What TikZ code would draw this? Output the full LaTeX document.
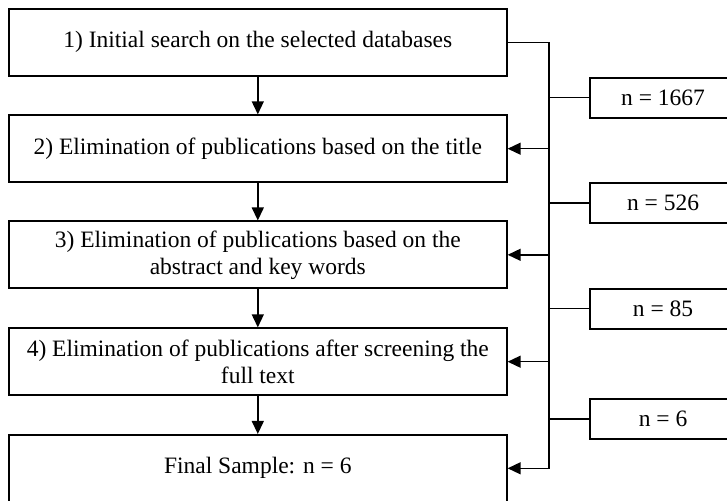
\documentclass[tikz,border=0pt]{standalone}
\usepackage{fontspec}
\setmainfont{Liberation Serif}
\usetikzlibrary{arrows.meta}

\begin{document}
\begin{tikzpicture}[x=1pt,y=-1pt,
  stage/.style={draw=black, line width=2pt, minimum width=497.7pt, minimum height=66.7pt,
    inner sep=0pt, align=center, font=\fontsize{23.5}{27}\selectfont},
  count/.style={draw=black, line width=2pt, minimum width=146pt, minimum height=40.3pt,
    inner sep=0pt, align=center, font=\fontsize{23.5}{27}\selectfont},
  link/.style={line width=1.4pt},
  flow/.style={line width=1.4pt, -{Triangle[length=13pt,width=12pt]}}]

\useasboundingbox (0,0) rectangle (727,500);
\clip (0,0) rectangle (727,500);

% main stages
\node[stage] (b1) at (257.8,42.3)  {1) Initial search on the selected databases};
\node[stage] (b2) at (257.8,148.7) {2) Elimination of publications based on the title};
\node[stage] (b3) at (257.8,254.8) {3) Elimination of publications based on the\\abstract and key words};
\node[stage] (b4) at (257.8,361.7) {4) Elimination of publications after screening the\\full text};
\node[stage] (b5) at (257.8,468.3) {Final Sample: n = 6};

% counts
\node[count] (r1) at (663,97.7)  {n = 1667};
\node[count] (r2) at (663,203.1) {n = 526};
\node[count] (r3) at (663,308.7) {n = 85};
\node[count] (r4) at (663,419)   {n = 6};

% bus on the right
\coordinate (bus) at (549,0);

% downward flow
\draw[flow] (b1.south) -- (b2.north);
\draw[flow] (b2.south) -- (b3.north);
\draw[flow] (b3.south) -- (b4.north);
\draw[flow] (b4.south) -- (b5.north);

% bus from stage 1 down to the final sample
\draw[flow] (b1.east) -| (bus |- b5.east) -- (b5.east);
\draw[flow] (bus |- b2.east) -- (b2.east);
\draw[flow] (bus |- b3.east) -- (b3.east);
\draw[flow] (bus |- b4.east) -- (b4.east);

% branches to the counts
\draw[link] (bus |- r1.west) -- (r1.west);
\draw[link] (bus |- r2.west) -- (r2.west);
\draw[link] (bus |- r3.west) -- (r3.west);
\draw[link] (bus |- r4.west) -- (r4.west);
\end{tikzpicture}
\end{document}
